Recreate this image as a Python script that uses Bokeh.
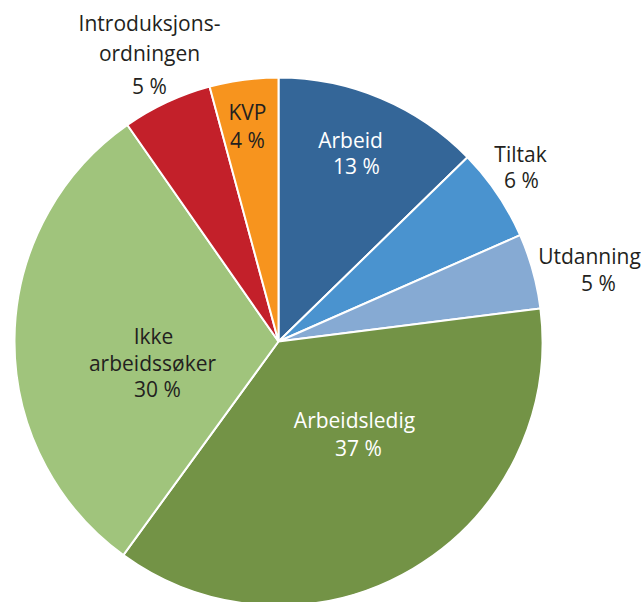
import math
from bokeh.plotting import figure
from bokeh.models import Range1d, ColumnDataSource
from bokeh.core.properties import value
from bokeh.embed import file_html
from bokeh.resources import INLINE

# ---- data ----
categories = ["Arbeid", "Tiltak", "Utdanning", "Arbeidsledig",
              "Ikke arbeidssøker", "Introduksjonsordningen", "KVP"]
shares = [12.7, 5.7, 4.6, 37.0, 30.3, 5.5, 4.2]
pct_labels = ["13 %", "6 %", "5 %", "37 %", "30 %", "5 %", "4 %"]
name_lines = [["Arbeid"], ["Tiltak"], ["Utdanning"], ["Arbeidsledig"],
              ["Ikke", "arbeidssøker"], ["Introduksjons-", "ordningen"], ["KVP"]]
colors = ["#346698", "#4a93cf", "#86aad3", "#739346", "#a0c47c", "#c3202a", "#f7941e"]
text_colors = ["white", "#231f20", "#231f20", "white", "#231f20", "#231f20", "#231f20"]

# ---- layout (page pixel coordinates; y flipped to data) ----
W, H = 641, 602
def Y(yimg):
    return H - yimg

cx, cy, r = 278, Y(341), 264

# label anchor positions (image px): one per text line
label_pos = [
    [(350, 139), (356, 165)],
    [(520, 153), (521, 179)],
    [(589, 255), (598, 282)],
    [(354, 419), (358, 447)],
    [(153, 335), (152, 362), (157, 388)],
    [(149, 22), (149, 52), (149, 85)],
    [(247, 111), (247, 139)],
]

p = figure(width=W, height=H, output_backend="svg", toolbar_location=None,
           x_range=Range1d(0, W), y_range=Range1d(0, H),
           min_border=0, outline_line_color=None)
p.axis.visible = False
p.grid.visible = False
p.background_fill_color = "white"

total = sum(shares)
starts, ends = [], []
cum = 0.0
for s in shares:
    starts.append(math.pi / 2 - 2 * math.pi * cum / total)
    cum += s
    ends.append(math.pi / 2 - 2 * math.pi * cum / total)

src = ColumnDataSource(dict(start=starts, end=ends, color=colors, cat=categories))
p.wedge(x=cx, y=cy, radius=r, start_angle="start", end_angle="end",
        direction="clock", fill_color="color", line_color="white",
        line_width=2, source=src)

xs, ys, ts, cs = [], [], [], []
for i, cat in enumerate(categories):
    lines = name_lines[i] + [pct_labels[i]]
    for (lx, ly), t in zip(label_pos[i], lines):
        xs.append(lx); ys.append(Y(ly)); ts.append(t); cs.append(text_colors[i])

p.text(x=xs, y=ys, text=ts, text_color=cs, text_align="center",
       text_baseline="middle", text_font=value("Open Sans"),
       text_font_size="21px")

open("out.html", "w").write(file_html(p, INLINE))
